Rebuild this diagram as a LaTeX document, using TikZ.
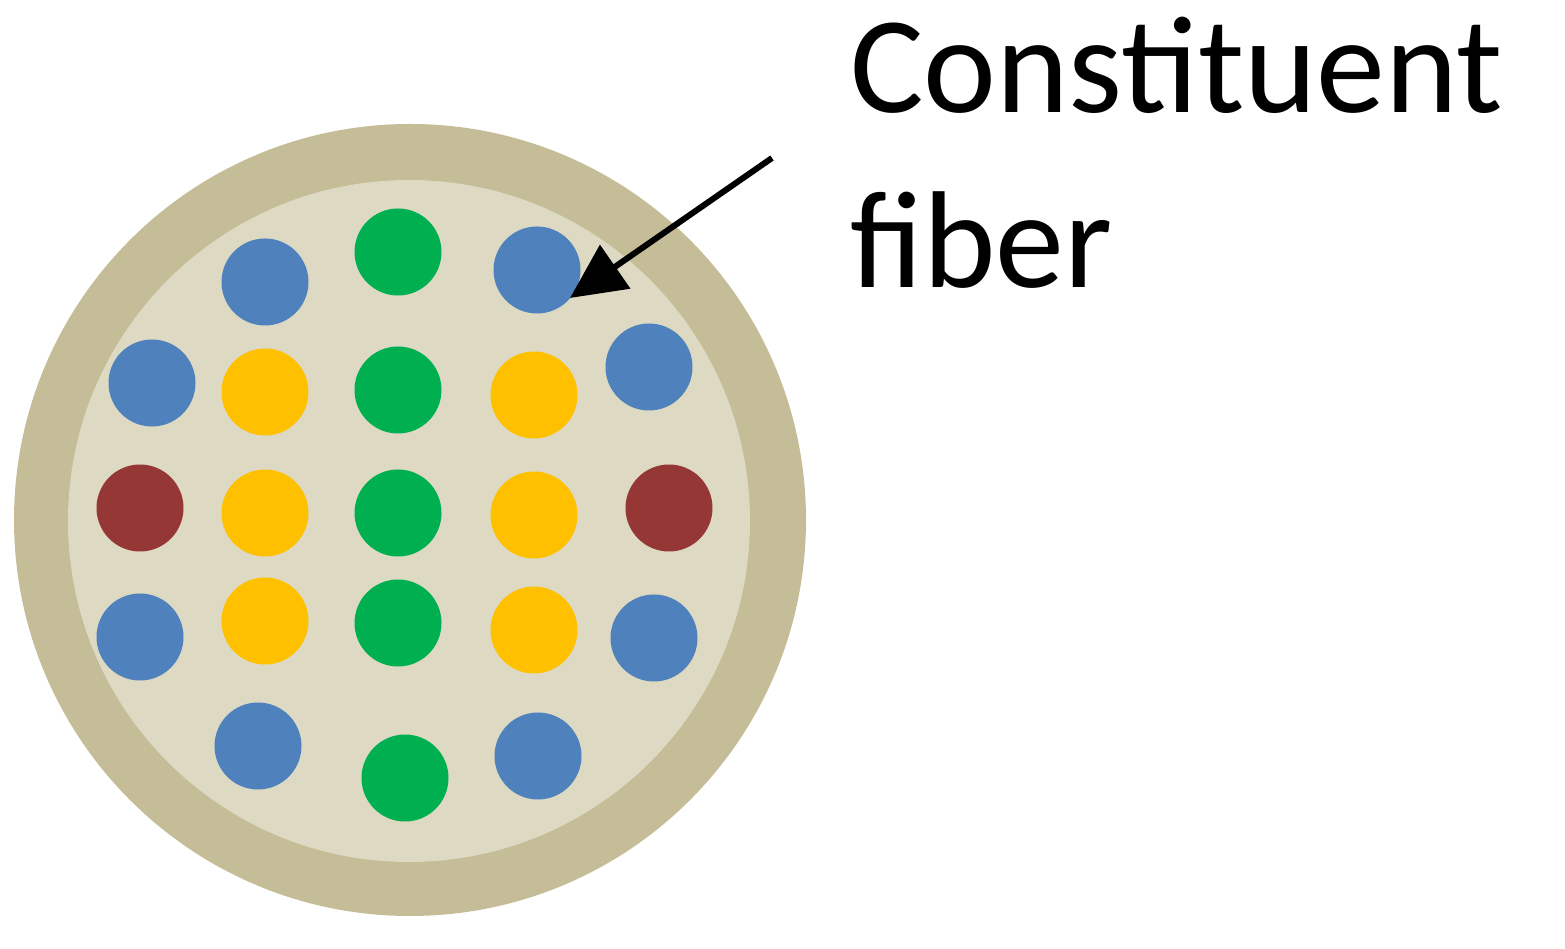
\documentclass[tikz,border=0pt]{standalone}
\usepackage{fontspec}
\setmainfont{Carlito}
\definecolor{outerc}{HTML}{C4BD97}
\definecolor{innerc}{HTML}{DDD9C3}
\definecolor{bl}{HTML}{4F81BD}
\definecolor{gr}{HTML}{00B050}
\definecolor{ye}{HTML}{FFC000}
\definecolor{re}{HTML}{953735}
\usetikzlibrary{arrows.meta}
\tikzset{dot/.style={circle,inner sep=0pt,minimum size=87pt,fill=#1},
lbltext/.style={anchor=base west,inner sep=0pt,font=\fontsize{138}{170}\selectfont}}
\begin{document}
\begin{tikzpicture}[x=1pt,y=1pt]
\useasboundingbox (0,0) rectangle (1565,949);
\fill[outerc] (410,949-520) circle (396);
\fill[innerc] (409,949-521) circle (341);
\foreach \x/\y/\c/\n in {265/282/bl/a1,398/252/gr/a2,537/270/bl/a3,
152/383/bl/b1,265/392/ye/b2,398/390/gr/b3,534/395/ye/b4,649/367/bl/b5,
140/508/re/c1,265/513/ye/c2,398/513/gr/c3,534/515/ye/c4,669/508/re/c5,
140/637/bl/d1,265/621/ye/d2,398/623/gr/d3,534/630/ye/d4,654/638/bl/d5,
258/746/bl/e1,405/778/gr/e2,538/756/bl/e3}
  \node[dot=\c] (\n) at (\x,949-\y) {};
\node[lbltext] (l1) at (850,949-113) {Constituent};
\node[lbltext] (l2) at (850,949-288) {fiber};
\coordinate (tail) at (772,949-158);
\coordinate (tip) at (570,949-298);
\draw[line width=6pt,-{Triangle[length=55pt,width=52pt]}] (tail) -- (tip);
\end{tikzpicture}
\end{document}
